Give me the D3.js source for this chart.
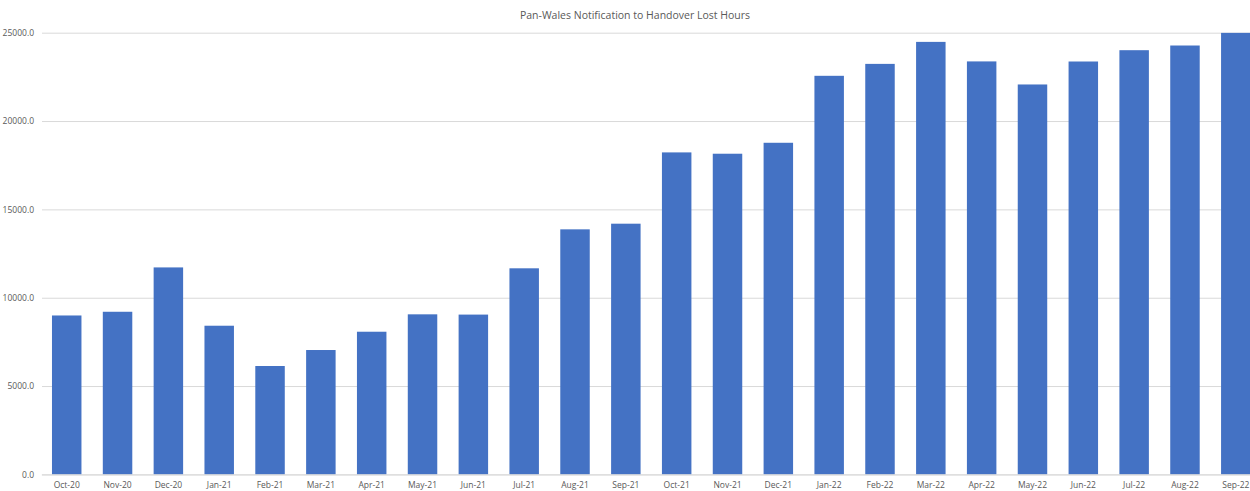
<!DOCTYPE html>
<html><head><meta charset="utf-8">
<script src="https://cdn.jsdelivr.net/npm/d3@7"></script>
<style>body{margin:0;background:#fff}svg{display:block}</style>
</head><body>
<script>
const title = "Pan-Wales Notification to Handover Lost Hours";
const categories = ["Oct-20","Nov-20","Dec-20","Jan-21","Feb-21","Mar-21","Apr-21","May-21","Jun-21","Jul-21","Aug-21","Sep-21","Oct-21","Nov-21","Dec-21","Jan-22","Feb-22","Mar-22","Apr-22","May-22","Jun-22","Jul-22","Aug-22","Sep-22"];
const values = [8995,9205,11715,8415,6135,7040,8075,9060,9045,11665,13870,14190,18225,18150,18770,22560,23235,24480,23375,22070,23370,24010,24275,24990];
const yTicks = [0,5000,10000,15000,20000,25000];

const W=1250,H=491;
const svg=d3.select("body").append("svg").attr("width",W).attr("height",H);
const font="'Open Sans', 'Liberation Sans', sans-serif";
const x=d3.scaleBand().domain(categories).range([41.3,41.3+24*50.83]).paddingInner(0.42).paddingOuter(0.21);
const y=d3.scaleLinear().domain([0,25000]).range([474.4,32.7]);

svg.append("text").attr("x",635).attr("y",19).attr("text-anchor","middle")
  .attr("font-family",font).attr("font-size",10.5).attr("fill","#595959").text(title);

const ya=svg.append("g").attr("transform","translate(42,0)")
  .call(d3.axisLeft(y).tickValues(yTicks).tickSize(-1230).tickFormat(d=>d3.format(".1f")(d)));
ya.select(".domain").remove();
ya.selectAll("line").attr("stroke","#d9d9d9");
ya.selectAll("text").attr("x",-8).attr("font-family",font).attr("font-size",8.5).attr("fill","#595959");

svg.append("g").selectAll("rect").data(values).join("rect")
  .attr("x",(d,i)=>x(categories[i])).attr("width",x.bandwidth())
  .attr("y",d=>y(d)).attr("height",d=>y(0)-y(d)).attr("fill","#4472c4");

const xa=svg.append("g").attr("transform","translate(0,474.4)")
  .call(d3.axisBottom(x).tickSize(0).tickPadding(8));
xa.select(".domain").attr("stroke","#d9d9d9");
xa.selectAll("text").attr("font-family",font).attr("font-size",8.5).attr("fill","#595959");
</script>
</body></html>
